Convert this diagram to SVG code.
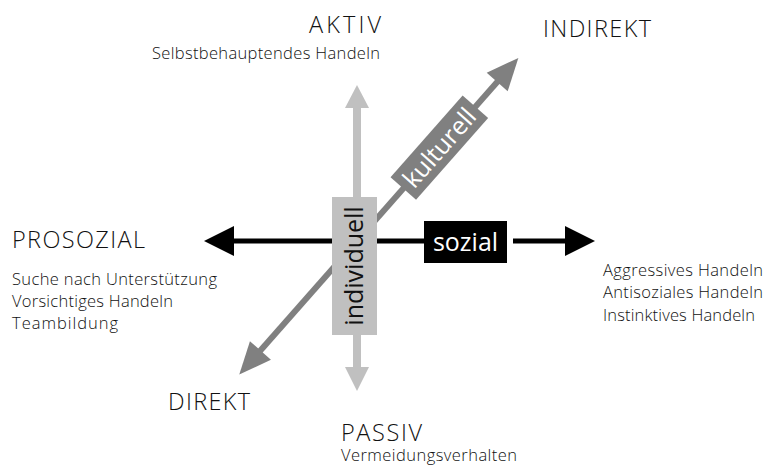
<svg xmlns="http://www.w3.org/2000/svg" width="767" height="465" viewBox="0 0 767 465">
<style>
text{font-family:"Open Sans","Liberation Sans",sans-serif;font-weight:300;fill:#111}
.h{font-size:23.5px}
.s{font-size:16.5px}
.lbl{font-size:25px;fill:#fff;text-anchor:middle;font-weight:400}
</style>
<rect width="767" height="465" fill="#fff"/>
<g id="connectors">
  <g id="axis-direkt-indirekt" transform="translate(357,241) rotate(-48.6)" fill="#808080">
    <line x1="-150" y1="0" x2="215" y2="0" stroke="#808080" stroke-width="6"/>
    <polygon points="244,0 212,-14 212,14"/>
    <polygon points="-178,0 -146,-14 -146,14"/>
  </g>
  <g id="axis-aktiv-passiv" fill="#c0c0c0">
    <line x1="357" y1="105" x2="357" y2="370" stroke="#c0c0c0" stroke-width="8"/>
    <polygon points="357,85 345,108 369,108"/>
    <polygon points="357,391 345,367 369,367"/>
  </g>
  <g id="axis-prosozial-sozial" fill="#000">
    <line x1="230" y1="241" x2="505" y2="241" stroke="#000" stroke-width="5"/>
    <line x1="513" y1="241" x2="569" y2="241" stroke="#000" stroke-width="5"/>
    <polygon points="204,241 234,226 234,256"/>
    <polygon points="595,241 565,226 565,256"/>
  </g>
</g>
<g id="node-individuell">
  <rect x="332" y="197" width="45" height="138" fill="#c0c0c0"/>
  <text class="lbl" transform="translate(363,266) rotate(-90)" x="0" y="0" style="fill:#111">individuell</text>
</g>
<g id="node-kulturell" transform="translate(357,241) rotate(-48.6)">
  <rect x="70" y="-17" width="109" height="34" fill="#808080"/>
  <text class="lbl" x="124.5" y="9">kulturell</text>
</g>
<g id="node-sozial">
  <rect x="424" y="221" width="83" height="42" fill="#000"/>
  <text class="lbl" x="465.5" y="251">sozial</text>
</g>
<g id="node-aktiv">
  <text class="h" x="309" y="33" textLength="72">AKTIV</text>
  <text class="s" x="152" y="59" textLength="228">Selbstbehauptendes Handeln</text>
</g>
<g id="node-indirekt">
  <text class="h" x="543" y="37" textLength="108">INDIREKT</text>
</g>
<g id="node-prosozial">
  <text class="h" x="12" y="248" textLength="133">PROSOZIAL</text>
  <text class="s" x="12" y="285" textLength="205">Suche nach Unterstützung</text>
  <text class="s" x="12" y="307" textLength="161">Vorsichtiges Handeln</text>
  <text class="s" x="12" y="329" textLength="106">Teambildung</text>
</g>
<g id="node-sozial-list">
  <text class="s" x="603" y="276" textLength="160">Aggressives Handeln</text>
  <text class="s" x="603" y="298" textLength="160">Antisoziales Handeln</text>
  <text class="s" x="603" y="321" textLength="152">Instinktives Handeln</text>
</g>
<g id="node-direkt">
  <text class="h" x="168" y="410" textLength="82">DIREKT</text>
</g>
<g id="node-passiv">
  <text class="h" x="341" y="441" textLength="81">PASSIV</text>
  <text class="s" x="341" y="461" textLength="176">Vermeidungsverhalten</text>
</g>
</svg>
